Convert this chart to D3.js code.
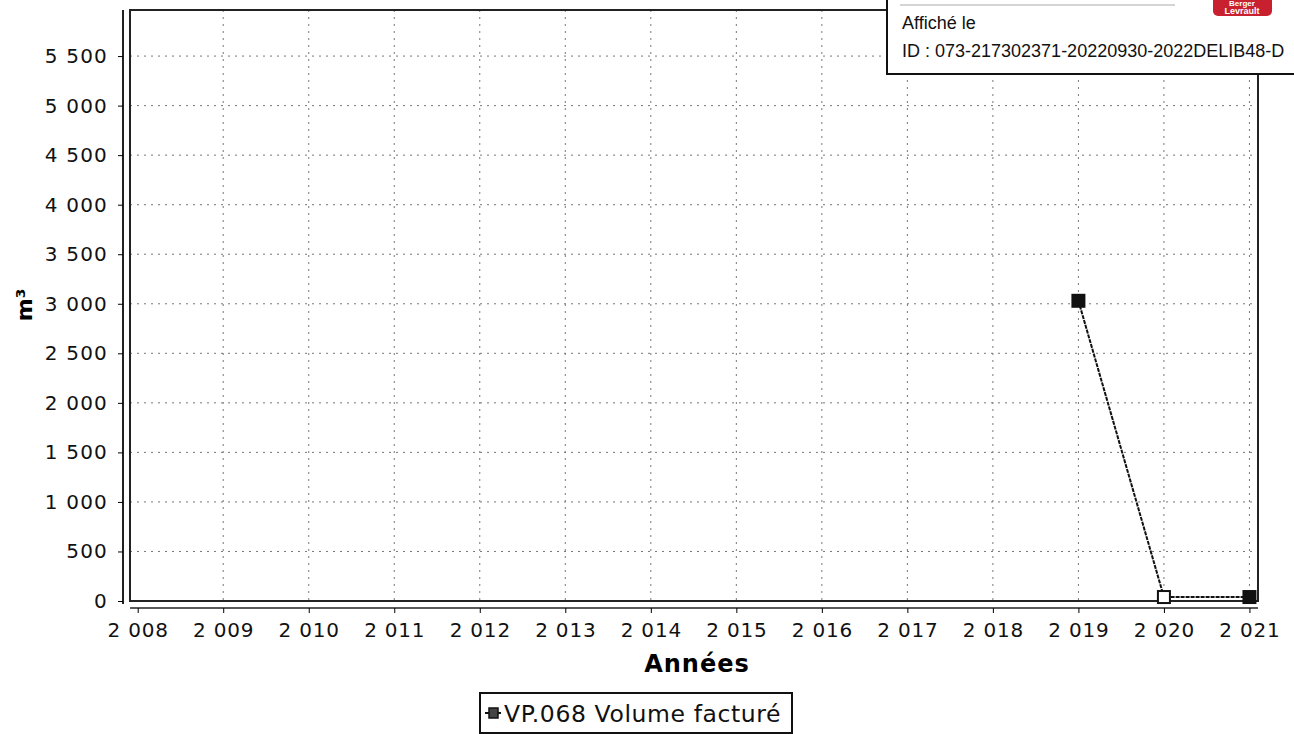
<!DOCTYPE html>
<html><head><meta charset="utf-8">
<script src="https://cdn.jsdelivr.net/npm/d3@7"></script>
<style>body{margin:0;background:#fff}svg{display:block}</style>
</head><body>
<svg id="c" width="1294" height="734"></svg>
<script>
const years = [2008,2009,2010,2011,2012,2013,2014,2015,2016,2017,2018,2019,2020,2021];
const seriesYears = [2019, 2020, 2021];
const seriesValues = [3030, 40, 40];
const seriesName = "VP.068 Volume facturé";
const yTicks = [0,500,1000,1500,2000,2500,3000,3500,4000,4500,5000,5500];
const yTitle = "m³";
const xTitle = "Années";
const stampLines = ["Affiché le", "ID : 073-217302371-20220930-2022DELIB48-D"];
const logoLines = ["Berger", "Levrault"];

const svg = d3.select("#c");
const loc = d3.formatLocale({decimal:",", thousands:" ", grouping:[3], currency:["",""]});
const fmt = loc.format(",d");
const font = "'DejaVu Sans', sans-serif";
const sfont = "'Liberation Sans', Arial, sans-serif";

const L = 130, R = 1258, T = 10, B = 601;
const x = d3.scaleLinear().domain([2007.91, 2021.1]).range([L, R]);
const y = d3.scaleLinear().domain([0, 5965]).range([B, T]);

// gridlines
const g = svg.append("g");
g.selectAll(".hg").data(yTicks.filter(d=>d>0)).join("line")
  .attr("x1", L).attr("x2", R).attr("y1", d=>y(d)).attr("y2", d=>y(d))
  .attr("stroke", "#777").attr("stroke-width", 1).attr("stroke-dasharray", "2,5");
g.selectAll(".vg").data(years.slice(1)).join("line")
  .attr("y1", T).attr("y2", B).attr("x1", d=>x(d)).attr("x2", d=>x(d))
  .attr("stroke", "#777").attr("stroke-width", 1).attr("stroke-dasharray", "2,5");

// plot border
svg.append("rect").attr("x", L).attr("y", T).attr("width", R-L).attr("height", B-T)
  .attr("fill", "none").attr("stroke", "#222").attr("stroke-width", 2);

// y axis
const ya = svg.append("g").attr("transform", "translate(123,0)")
  .call(d3.axisLeft(y).tickValues(yTicks).tickFormat(fmt).tickSize(5).tickPadding(10));
ya.select(".domain").attr("d", `M0,${T}V${B+3}`).attr("stroke", "#222").attr("stroke-width", 2);
ya.selectAll("text").attr("font-family", font).attr("font-size", 20).attr("letter-spacing", 1.2).attr("fill", "#111");

// x axis
const xa = svg.append("g").attr("transform", "translate(0,608)")
  .call(d3.axisBottom(x).tickValues(years).tickFormat(fmt).tickSize(5).tickPadding(10));
xa.select(".domain").attr("d", `M${L},0H${R}`).attr("stroke", "#222").attr("stroke-width", 1.5);
xa.selectAll("text").attr("font-family", font).attr("font-size", 20).attr("letter-spacing", 0.8).attr("fill", "#111");

// titles
svg.append("text").attr("x", 697).attr("y", 672).attr("text-anchor", "middle")
  .attr("font-family", font).attr("font-size", 24).attr("letter-spacing", 1).attr("font-weight", "bold").text(xTitle);
svg.append("text").attr("transform", "translate(32,305) rotate(-90)").attr("text-anchor", "middle")
  .attr("font-family", font).attr("font-size", 22).attr("font-weight", "bold").text(yTitle);

// line series
const pts = seriesYears.map((d,i)=>({yr:d, v:seriesValues[i]}));
svg.append("path").datum(pts)
  .attr("d", d3.line().x(d=>x(d.yr)).y(d=>y(d.v)))
  .attr("fill", "none").attr("stroke", "#111").attr("stroke-width", 2).attr("stroke-dasharray", "4,1");
svg.selectAll(".pt").data(pts).join("rect")
  .attr("x", d=>x(d.yr)-6).attr("y", d=>y(d.v)-6).attr("width", 12).attr("height", 12)
  .attr("fill", (d,i)=> i===1 ? "#fff" : "#111").attr("stroke", "#111").attr("stroke-width", 2);

// legend
const lg = svg.append("g");
lg.append("rect").attr("x", 480).attr("y", 693).attr("width", 312).attr("height", 40)
  .attr("fill", "#fff").attr("stroke", "#111").attr("stroke-width", 2);
lg.append("line").attr("x1", 485).attr("x2", 501).attr("y1", 713).attr("y2", 713).attr("stroke", "#111").attr("stroke-width", 2);
lg.append("rect").attr("x", 489).attr("y", 708).attr("width", 9).attr("height", 10)
  .attr("fill", "#444").attr("stroke", "#111").attr("stroke-width", 1.5);
lg.append("text").attr("x", 504).attr("y", 722).attr("font-family", font).attr("font-size", 23.5).attr("letter-spacing", 0.6).attr("fill", "#111").text(seriesName);

// stamp box
const st = svg.append("g");
st.append("rect").attr("x", 887).attr("y", -2).attr("width", 420).attr("height", 76)
  .attr("fill", "#fff").attr("stroke", "#111").attr("stroke-width", 2);
st.append("line").attr("x1", 900).attr("x2", 1175).attr("y1", 5).attr("y2", 5).attr("stroke", "#aaa").attr("stroke-width", 1);
st.append("rect").attr("x", 1213).attr("y", -6).attr("width", 59).attr("height", 22).attr("rx", 5).attr("fill", "#c8202e");
st.append("text").attr("x", 1242).attr("y", 6).attr("text-anchor", "middle").attr("font-family", sfont)
  .attr("font-size", 8).attr("font-weight", "bold").attr("fill", "#fff").text(logoLines[0]);
st.append("text").attr("x", 1242).attr("y", 14).attr("text-anchor", "middle").attr("font-family", sfont)
  .attr("font-size", 9).attr("font-weight", "bold").attr("fill", "#fff").text(logoLines[1]);
st.append("text").attr("x", 902).attr("y", 29).attr("font-family", sfont)
  .attr("font-size", 18).attr("fill", "#111").text(stampLines[0]);
st.append("text").attr("x", 902).attr("y", 57).attr("font-family", sfont)
  .attr("font-size", 18).attr("fill", "#111").text(stampLines[1]);
</script>
</body></html>
